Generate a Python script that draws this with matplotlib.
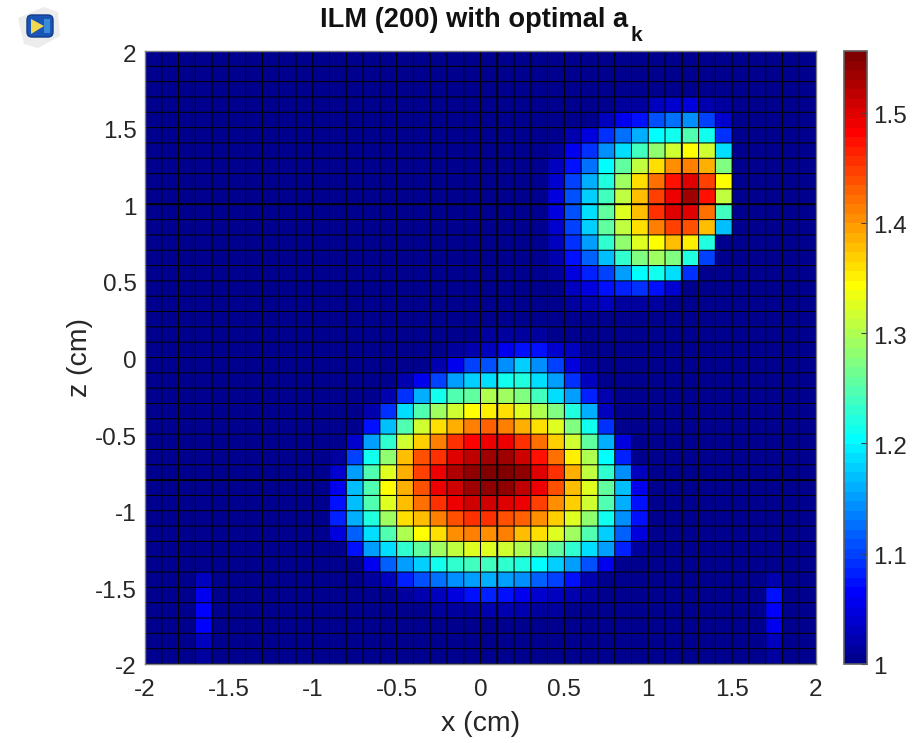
import numpy as np
import matplotlib
matplotlib.use('Agg')
import matplotlib.pyplot as plt
from matplotlib.colors import ListedColormap
from matplotlib.patches import FancyBboxPatch, Polygon
from matplotlib.transforms import ScaledTranslation

x_edges = np.arange(-20, 21) / 10
z_edges = np.arange(-20, 21) / 10
base_value = 1.0
x_ticks = [-2, -1.5, -1, -0.5, 0, 0.5, 1, 1.5, 2]
z_ticks = [-2, -1.5, -1, -0.5, 0, 0.5, 1, 1.5, 2]
x_tick_labels = ['-2', '-1.5', '-1', '-0.5', '0', '0.5', '1', '1.5', '2']
z_tick_labels = ['-2', '-1.5', '-1', '-0.5', '0', '0.5', '1', '1.5', '2']
cbar_ticks = [1, 1.1, 1.2, 1.3, 1.4, 1.5]
cbar_labels = ['1', '1.1', '1.2', '1.3', '1.4', '1.5']
cross_x = [0.1, 1.2]
cross_z = [-0.8, 1.0]

# big blob, rows go bottom to top, first row is index 3, first column index 11
lower_row0, lower_col0 = 3, 11
lower_blob = [
    [1, 1, 1, 1, 1, 1, 1.01, 1.01, 1.01, 1.02, 1.02, 1.02, 1.01, 1.01, 1, 1, 1, 1, 1, 1],
    [1, 1, 1, 1, 1.01, 1.02, 1.03, 1.05, 1.07, 1.08, 1.07, 1.06, 1.04, 1.03, 1.02, 1.01, 1, 1, 1, 1],
    [1, 1, 1.01, 1.03, 1.08, 1.11, 1.13, 1.14, 1.15, 1.16, 1.15, 1.14, 1.12, 1.10, 1.07, 1.02, 1, 1, 1, 1],
    [1, 1, 1.06, 1.12, 1.15, 1.18, 1.21, 1.23, 1.24, 1.24, 1.23, 1.22, 1.20, 1.18, 1.15, 1.11, 1.06, 1, 1, 1],
    [1, 1.07, 1.15, 1.19, 1.23, 1.26, 1.29, 1.31, 1.33, 1.33, 1.32, 1.30, 1.28, 1.26, 1.23, 1.19, 1.15, 1.08, 1.01, 1],
    [1.05, 1.12, 1.19, 1.25, 1.30, 1.34, 1.36, 1.40, 1.41, 1.40, 1.41, 1.38, 1.36, 1.33, 1.29, 1.25, 1.18, 1.12, 1.05, 1],
    [1.08, 1.16, 1.22, 1.29, 1.36, 1.38, 1.41, 1.44, 1.46, 1.46, 1.44, 1.43, 1.40, 1.37, 1.33, 1.28, 1.21, 1.14, 1.07, 1],
    [1.07, 1.17, 1.25, 1.33, 1.38, 1.42, 1.46, 1.49, 1.51, 1.51, 1.50, 1.49, 1.45, 1.40, 1.37, 1.32, 1.25, 1.16, 1.07, 1],
    [1.06, 1.17, 1.25, 1.34, 1.39, 1.44, 1.49, 1.51, 1.53, 1.54, 1.545, 1.52, 1.49, 1.44, 1.38, 1.33, 1.26, 1.17, 1.06, 1],
    [1.04, 1.15, 1.25, 1.33, 1.39, 1.45, 1.49, 1.525, 1.54, 1.555, 1.555, 1.54, 1.50, 1.46, 1.39, 1.31, 1.23, 1.14, 1.03, 1],
    [1.01, 1.10, 1.21, 1.28, 1.38, 1.44, 1.46, 1.50, 1.52, 1.53, 1.53, 1.51, 1.47, 1.42, 1.35, 1.30, 1.20, 1.08, 1, 1],
    [1, 1.04, 1.15, 1.23, 1.32, 1.37, 1.41, 1.46, 1.48, 1.49, 1.49, 1.46, 1.42, 1.37, 1.32, 1.26, 1.16, 1.05, 1, 1],
    [1, 1, 1.07, 1.17, 1.25, 1.32, 1.36, 1.39, 1.41, 1.43, 1.41, 1.39, 1.36, 1.33, 1.27, 1.21, 1.09, 1, 1, 1],
    [1, 1, 1.02, 1.09, 1.19, 1.25, 1.29, 1.32, 1.34, 1.35, 1.36, 1.33, 1.30, 1.27, 1.22, 1.16, 1.03, 1, 1, 1],
    [1, 1, 1, 1.02, 1.09, 1.16, 1.21, 1.25, 1.26, 1.30, 1.29, 1.27, 1.24, 1.19, 1.15, 1.08, 1.02, 1, 1, 1],
    [1, 1, 1, 1, 1.02, 1.06, 1.10, 1.15, 1.18, 1.19, 1.21, 1.22, 1.19, 1.15, 1.09, 1.03, 1, 1, 1, 1],
    [1, 1, 1, 1, 1, 1, 1.02, 1.06, 1.10, 1.11, 1.14, 1.18, 1.14, 1.10, 1.05, 1.01, 1, 1, 1, 1],
    [1, 1, 1, 1, 1, 1, 1, 1.01, 1.02, 1.03, 1.06, 1.07, 1.07, 1.04, 1.03, 1, 1, 1, 1, 1],
    [1, 1, 1, 1, 1, 1, 1, 1, 1, 1.01, 1.01, 1.01, 1.01, 1, 1, 1, 1, 1, 1, 1],
]

# small blob, first row index 23, first column index 24
upper_row0, upper_col0 = 23, 24
upper_blob = [
    [1, 1.01, 1.02, 1.03, 1.01, 1.01, 1.01, 1, 1, 1, 1, 1],
    [1, 1.03, 1.05, 1.07, 1.08, 1.09, 1.07, 1.04, 1, 1, 1, 1],
    [1.01, 1.05, 1.08, 1.10, 1.15, 1.20, 1.21, 1.19, 1.09, 1, 1, 1],
    [1.02, 1.07, 1.12, 1.17, 1.23, 1.27, 1.29, 1.27, 1.22, 1.10, 1, 1],
    [1.03, 1.09, 1.15, 1.23, 1.28, 1.33, 1.34, 1.38, 1.35, 1.22, 1, 1],
    [1.04, 1.10, 1.18, 1.26, 1.31, 1.36, 1.41, 1.45, 1.44, 1.38, 1.17, 1],
    [1.05, 1.11, 1.19, 1.26, 1.33, 1.38, 1.46, 1.50, 1.50, 1.42, 1.24, 1],
    [1.05, 1.11, 1.18, 1.24, 1.31, 1.38, 1.45, 1.49, 1.53, 1.47, 1.31, 1],
    [1.04, 1.10, 1.16, 1.22, 1.29, 1.36, 1.42, 1.47, 1.50, 1.45, 1.34, 1],
    [1.03, 1.07, 1.13, 1.20, 1.26, 1.31, 1.36, 1.40, 1.41, 1.39, 1.27, 1],
    [1.01, 1.06, 1.09, 1.14, 1.19, 1.24, 1.28, 1.32, 1.345, 1.32, 1.19, 1],
    [1, 1.02, 1.05, 1.09, 1.13, 1.16, 1.20, 1.21, 1.25, 1.21, 1.09, 1],
    [1, 1, 1, 1.03, 1.06, 1.07, 1.11, 1.13, 1.14, 1.10, 1.04, 1],
    [1, 1, 1, 1, 1.01, 1.01, 1.03, 1.04, 1.05, 1.02, 1.01, 1],
]

# faint spots near the bottom corners, rows 0 to 5
spot_rows = [0, 1, 2, 3, 4, 5]
left_spot_col = 3
left_spot = [1.01, 1.03, 1.065, 1.065, 1.06, 1.03]
right_spot_col = 37
right_spot = [1.01, 1.03, 1.055, 1.065, 1.07, 1.025]


def matlab_jet(n=64):
    m = n // 4
    u = np.r_[np.arange(1, m + 1) / m, np.ones(m - 1), np.arange(m, 0, -1) / m]
    g = m // 2 + np.arange(len(u))
    r = g + m
    b = g - m
    rgb = np.zeros((n, 3))
    rgb[r[r < n], 0] = u[r < n]
    rgb[g[g < n], 1] = u[g < n]
    rgb[b[b >= 0], 2] = u[b >= 0]
    return ListedColormap(rgb)


values = np.full((40, 40), base_value)
lower = np.array(lower_blob)
values[lower_row0:lower_row0 + lower.shape[0], lower_col0:lower_col0 + lower.shape[1]] = lower
upper = np.array(upper_blob)
values[upper_row0:upper_row0 + upper.shape[0], upper_col0:upper_col0 + upper.shape[1]] = upper
values[spot_rows, left_spot_col] = left_spot
values[spot_rows, right_spot_col] = right_spot

plt.rcParams['font.family'] = ['Liberation Sans', 'DejaVu Sans']
text_color = '#262626'

W, H = 918, 743
fig = plt.figure(figsize=(W / 100, H / 100), dpi=100)
ax = fig.add_axes([145 / W, 1 - 664 / H, 671 / W, 613 / H])
cax = fig.add_axes([843.5 / W, 1 - 664 / H, 23 / W, 613 / H])

cmap = matlab_jet(64)
mesh = ax.pcolormesh(x_edges, z_edges, values, cmap=cmap, vmin=1, vmax=1.556, linewidth=0)

# cell borders, with two heavier lines through each blob
for x in x_edges:
    ax.axvline(x, color='black', lw=0.75, snap=False)
for z in z_edges:
    ax.axhline(z, color='black', lw=0.75, snap=False)
for x in cross_x:
    ax.axvline(x, color='black', lw=1.3, snap=False)
for z in cross_z:
    ax.axhline(z, color='black', lw=1.3, snap=False)

ax.set_xlim(-2, 2)
ax.set_ylim(-2, 2)
ax.set_xticks(x_ticks)
ax.set_xticklabels(x_tick_labels)
ax.set_yticks(z_ticks)
ax.set_yticklabels(z_tick_labels)
ax.tick_params(axis='x', length=0, labelsize=17.5, labelcolor=text_color, pad=11)
ax.tick_params(axis='y', length=0, labelsize=17.5, labelcolor=text_color, pad=6)
ax.set_xlabel('x (cm)', fontsize=20.5, color=text_color, labelpad=7)
ax.set_ylabel('z (cm)', fontsize=20.5, color=text_color, labelpad=1.5)
for side in ax.spines:
    ax.spines[side].set_color('#808080')
    ax.spines[side].set_linewidth(1.0)

fig.text(320 / W, 1 - 27 / H, 'ILM (200) with optimal a', ha='left', va='baseline',
         fontsize=19.6, fontweight='bold', color='#111111')
fig.text(630 / W, 1 - 41 / H, 'k', ha='left', va='baseline',
         fontsize=15, fontweight='bold', color='#111111')

cb = fig.colorbar(mesh, cax=cax)
cb.set_ticks(cbar_ticks)
cb.set_ticklabels(cbar_labels)
cb.ax.tick_params(direction='in', length=4.3, width=0.8, color='#404040',
                  labelsize=17.5, labelcolor=text_color, pad=5)
cb.outline.set_edgecolor('#606060')
cb.outline.set_linewidth(1.2)

# labels sit a little below their tick position in the original
nudge = ScaledTranslation(0, -2 / 100, fig.dpi_scale_trans)
for label in ax.get_yticklabels() + cb.ax.get_yticklabels():
    label.set_transform(label.get_transform() + nudge)

# small window icon in the corner, drawn in pixel units
icon = fig.add_axes([15 / W, 1 - 52 / H, 47 / W, 47 / H])
icon.set_xlim(15, 62)
icon.set_ylim(52, 5)
icon.axis('off')
icon.add_patch(Polygon([[18, 18], [44, 7], [58, 12], [60, 36], [38, 48], [24, 44]],
                       fc='#ececec', lw=0))
icon.add_patch(FancyBboxPatch((27, 15), 26, 22, boxstyle='round,pad=0,rounding_size=5',
                              fc='#1a55b5', ec='#123c88', lw=1))
icon.add_patch(Polygon([[31, 19], [44, 26], [31, 34]], fc='#f0d850', lw=0))
icon.add_patch(Polygon([[44, 19], [50, 19], [50, 33], [44, 33]], fc='#3a8ad8', lw=0))

fig.savefig('out.png', dpi=100)
